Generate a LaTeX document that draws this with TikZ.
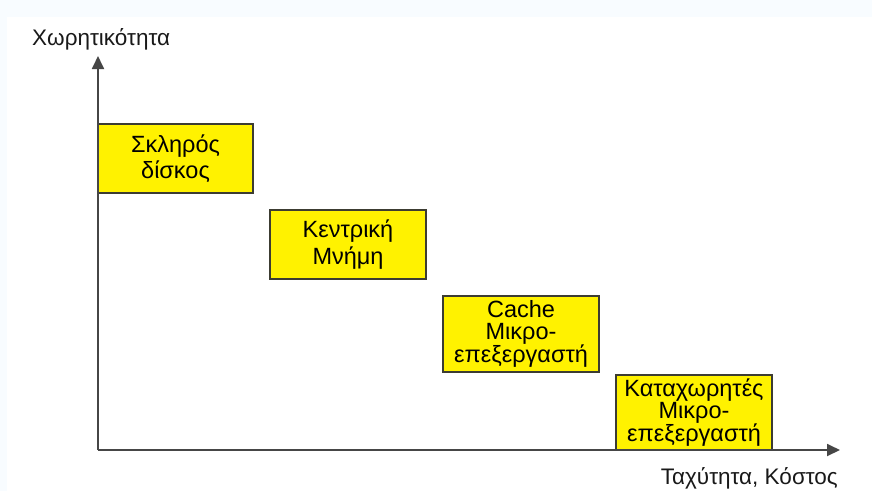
\documentclass[tikz,border=0pt]{standalone}
\usepackage{fontspec}
\setmainfont{Liberation Sans}
\usetikzlibrary{arrows.meta}
\definecolor{boxyellow}{RGB}{255,242,0}
\definecolor{boxedge}{RGB}{60,60,50}
\definecolor{axisgray}{RGB}{70,70,70}
\definecolor{paleblue}{RGB}{248,252,255}
\tikzset{
  membox/.style={draw=boxedge, line width=1.4pt, fill=boxyellow, inner sep=0pt, align=center, font=\fontsize{23.5}{26.5}\selectfont},
  membox3/.style={membox, font=\fontsize{23.5}{22}\selectfont},
  axisline/.style={draw=axisgray, line width=1.8pt, -{Triangle[length=13pt,width=12pt]}},
  axislabel/.style={inner sep=0pt, font=\fontsize{22.5}{24}\selectfont, text=black!90}
}
\begin{document}
\begin{tikzpicture}[x=1pt,y=-1pt]
  \fill[paleblue] (0,0) rectangle (872,491);
  \fill[white] (7,17) rectangle (872,491);
  \useasboundingbox (0,0) rectangle (872,491);

  \coordinate (O) at (98,450);
  \coordinate (ytip) at (98,56);
  \coordinate (xtip) at (840,450);

  \node[membox, minimum width=155pt, minimum height=69pt] (hdd) at (175.5,158.5) {Σκληρός\\δίσκος};
  \node[membox, minimum width=156pt, minimum height=69pt] (ram) at (348,244.5) {Κεντρική\\Μνήμη};
  \node[membox3, minimum width=156pt, minimum height=76pt] (cache) at (521,334) {Cache\\Μικρο-\\επεξεργαστή};
  \node[membox3, minimum width=156pt, minimum height=75pt] (regs) at (694,412.5) {Καταχωρητές\\Μικρο-\\επεξεργαστή};

  \draw[axisline] (O) -- (ytip);
  \draw[axisline] (O) -- (xtip);

  \node[axislabel, anchor=base west] (ylab) at (32,45) {Χωρητικότητα};
  \node[axislabel, anchor=base east] (xlab) at (838,484) {Ταχύτητα, Κόστος};
\end{tikzpicture}
\end{document}
